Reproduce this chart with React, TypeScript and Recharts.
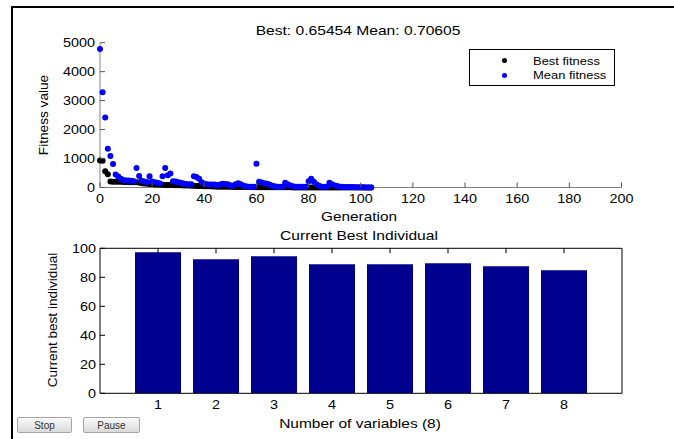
import React from 'react';
import { ScatterChart, Scatter, BarChart, Bar, XAxis, YAxis, Legend } from 'recharts';

const FONT = '"Liberation Sans", Arial, Helvetica, sans-serif';
const SX = 1.2; // the reference text is drawn wide

// GA run, generation 0..104
const bestFitness = [
  930, 920, 560, 460, 210, 200, 200, 195, 195, 190,
  190, 185, 185, 180, 180, 170, 150, 140, 130, 120,
  110, 100, 100, 95, 95, 90, 90, 85, 85, 80,
  80, 75, 70, 70, 65, 60, 60, 55, 50, 50,
  45, 40, 40, 35, 35, 30, 30, 30, 25, 25,
  25, 20, 20, 20, 18, 18, 15, 15, 15, 12,
  12, 10, 10, 10, 8, 8, 8, 7, 7, 6,
  6, 5, 5, 5, 4, 4, 4, 3, 3, 3,
  3, 2.5, 2.5, 2, 2, 2, 1.8, 1.8, 1.6, 1.6,
  1.5, 1.4, 1.3, 1.2, 1.1, 1.0, 0.95, 0.9, 0.85, 0.8,
  0.75, 0.72, 0.7, 0.68, 0.65454,
];

const meanFitness = [
  4780, 3290, 2420, 1340, 1090, 810, 450, 380, 300, 260,
  240, 240, 230, 220, 670, 400, 230, 210, 190, 390,
  210, 180, 160, 140, 390, 670, 420, 480, 220, 210,
  180, 160, 140, 120, 110, 110, 390, 360, 300, 180,
  130, 110, 100, 100, 100, 90, 100, 130, 120, 110,
  80, 60, 110, 150, 110, 60, 40, 30, 30, 30,
  820, 200, 170, 150, 130, 100, 60, 40, 30, 30,
  30, 160, 110, 70, 40, 30, 30, 30, 25, 25,
  220, 300, 200, 110, 60, 30, 25, 30, 160, 110,
  70, 50, 30, 25, 20, 20, 15, 15, 12, 10,
  8, 5, 3, 2, 0.70605,
];

const genTicks = [0, 20, 40, 60, 80, 100, 120, 140, 160, 180, 200];
const fitTicks = [0, 1000, 2000, 3000, 4000, 5000];

const variables = ['1', '2', '3', '4', '5', '6', '7', '8'];
const bestIndividual = [97.2, 92.4, 94.5, 89, 89, 89.7, 87.6, 84.8];
const indivTicks = [0, 20, 40, 60, 80, 100];

const bestPoints = bestFitness.map((v, i) => ({ x: i, y: v }));
const meanPoints = meanFitness.map((v, i) => ({ x: i, y: v }));
const barData = variables.map((v, i) => ({ idx: v, value: bestIndividual[i] }));

const dot = (color: string) => (p: any) => <circle cx={p.cx} cy={p.cy} r={3} fill={color} />;

// tick marks point inwards, like matlab
const leftTick = (margin: number, color: string) => (p: any) => (
  <g>
    <line x1={p.x + margin} x2={p.x + margin + 5} y1={p.y} y2={p.y} stroke={color} />
    <text transform={`translate(${p.x},${p.y}) scale(${SX},1)`} textAnchor="end" dy="0.355em"
      fontSize={12} fill="#000" fontFamily={FONT}>{p.payload.value}</text>
  </g>
);

const bottomTick = (margin: number, color: string, mark: boolean) => (p: any) => (
  <g>
    {mark && <line x1={p.x} x2={p.x} y1={p.y - margin} y2={p.y - margin - 5} stroke={color} />}
    <text transform={`translate(${p.x},${p.y}) scale(${SX},1)`} textAnchor="middle" dy="0.71em"
      fontSize={12} fill="#000" fontFamily={FONT}>{p.payload.value}</text>
  </g>
);

const topTick = (p: any) => <line x1={p.x} x2={p.x} y1={p.y} y2={p.y + 5} stroke="#000" />;
const rightTick = (p: any) => <line x1={p.x} x2={p.x - 5} y1={p.y} y2={p.y} stroke="#000" />;

const renderLegend = (props: any) => (
  <div style={{ width: 146, height: 37, border: '1px solid #000', boxSizing: 'border-box', background: '#fff', position: 'relative', fontFamily: FONT }}>
    {(props.payload || []).map((e: any, i: number) => (
      <div key={i}>
        <div style={{ position: 'absolute', left: 31.5, top: 8 + i * 15, width: 5, height: 5, borderRadius: 3, background: e.color }} />
        <div style={{ position: 'absolute', left: 63, top: 4.5 + i * 14.7, fontSize: 11, lineHeight: '13px', whiteSpace: 'nowrap', transform: `scaleX(${SX * 0.98})`, transformOrigin: 'left center' }}>{e.value}</div>
      </div>
    ))}
  </div>
);

const Caption = ({ x, y, sx = SX, rotate = false, size = 13, children }: any) => (
  <div style={{
    position: 'absolute', left: x, top: y, fontFamily: FONT, fontSize: size, lineHeight: 1, whiteSpace: 'nowrap', color: '#000',
    transform: `translate(-50%,-50%)${rotate ? ' rotate(-90deg)' : ''} scaleX(${sx})`,
  }}>{children}</div>
);

const btn: React.CSSProperties = {
  position: 'absolute', top: 417, height: 16, padding: 0, fontFamily: FONT, fontSize: 10, color: '#333',
  background: 'linear-gradient(#fafafa, #dadada)', border: '1px solid #a6a6a6', borderRadius: 2,
};

export default function App() {
  return (
    <div style={{ position: 'absolute', left: 0, top: 0, width: 674, height: 439, background: '#fff', overflow: 'hidden' }}>
      <div style={{ position: 'absolute', left: 11, top: 6, width: 680, height: 450, borderTop: '2px solid #000', borderLeft: '2px solid #000' }} />

      <div style={{ position: 'absolute', left: 0, top: 0 }}>
        <ScatterChart width={674} height={215} margin={{ top: 42.7, right: 52.5, bottom: 7.5, left: 40 }}>
          <XAxis type="number" dataKey="x" domain={[0, 200]} ticks={genTicks} stroke="#808080"
            tickSize={0} tickMargin={7} tick={bottomTick(7, '#555', true)} height={20} />
          <YAxis type="number" dataKey="y" domain={[0, 5000]} ticks={fitTicks} stroke="#808080"
            tickSize={0} tickMargin={5} tick={leftTick(5, '#555')} width={60} />
          <Legend layout="vertical" align="center" verticalAlign="middle" content={renderLegend}
            wrapperStyle={{ left: 469, top: 49, width: 146, height: 37 }} />
          <Scatter name="Best fitness" data={bestPoints} fill="#000000" shape={dot('#000000')} isAnimationActive={false} />
          <Scatter name="Mean fitness" data={meanPoints} fill="#0000ff" shape={dot('#0000ff')} isAnimationActive={false} />
        </ScatterChart>
      </div>

      <div style={{ position: 'absolute', left: 0, top: 220 }}>
        <BarChart width={674} height={200} data={barData} margin={{ top: 23.3, right: 42, bottom: 6.7, left: 40 }} barSize={46}>
          <XAxis dataKey="idx" type="category" padding={{ left: 29, right: 29 }} stroke="#000" interval={0}
            tickSize={0} tickMargin={7} tick={bottomTick(7, '#000', false)} height={20} />
          <XAxis xAxisId="top" orientation="top" dataKey="idx" type="category" padding={{ left: 29, right: 29 }} stroke="#000"
            interval={0} tickSize={0} tickMargin={0} tick={topTick} height={5} />
          <YAxis domain={[0, 100]} ticks={indivTicks} stroke="#000" tickSize={0} tickMargin={4} tick={leftTick(4, '#000')} width={60} />
          <YAxis yAxisId="right" orientation="right" domain={[0, 100]} ticks={indivTicks} stroke="#000"
            tickSize={0} tickMargin={0} tick={rightTick} width={10} />
          <Bar dataKey="value" fill="#00008f" isAnimationActive={false} />
        </BarChart>
      </div>

      <Caption x={358} y={30}>Best: 0.65454 Mean: 0.70605</Caption>
      <Caption x={359} y={215.5} sx={1.18}>Generation</Caption>
      <Caption x={43} y={115} rotate sx={1.05}>Fitness value</Caption>
      <Caption x={359} y={234.7}>Current Best Individual</Caption>
      <Caption x={360} y={422.5} sx={1.19}>Number of variables (8)</Caption>
      <Caption x={52} y={320} rotate sx={1.04}>Current best individual</Caption>

      <button style={{ ...btn, left: 17, width: 55 }}>Stop</button>
      <button style={{ ...btn, left: 83, width: 57 }}>Pause</button>
    </div>
  );
}
